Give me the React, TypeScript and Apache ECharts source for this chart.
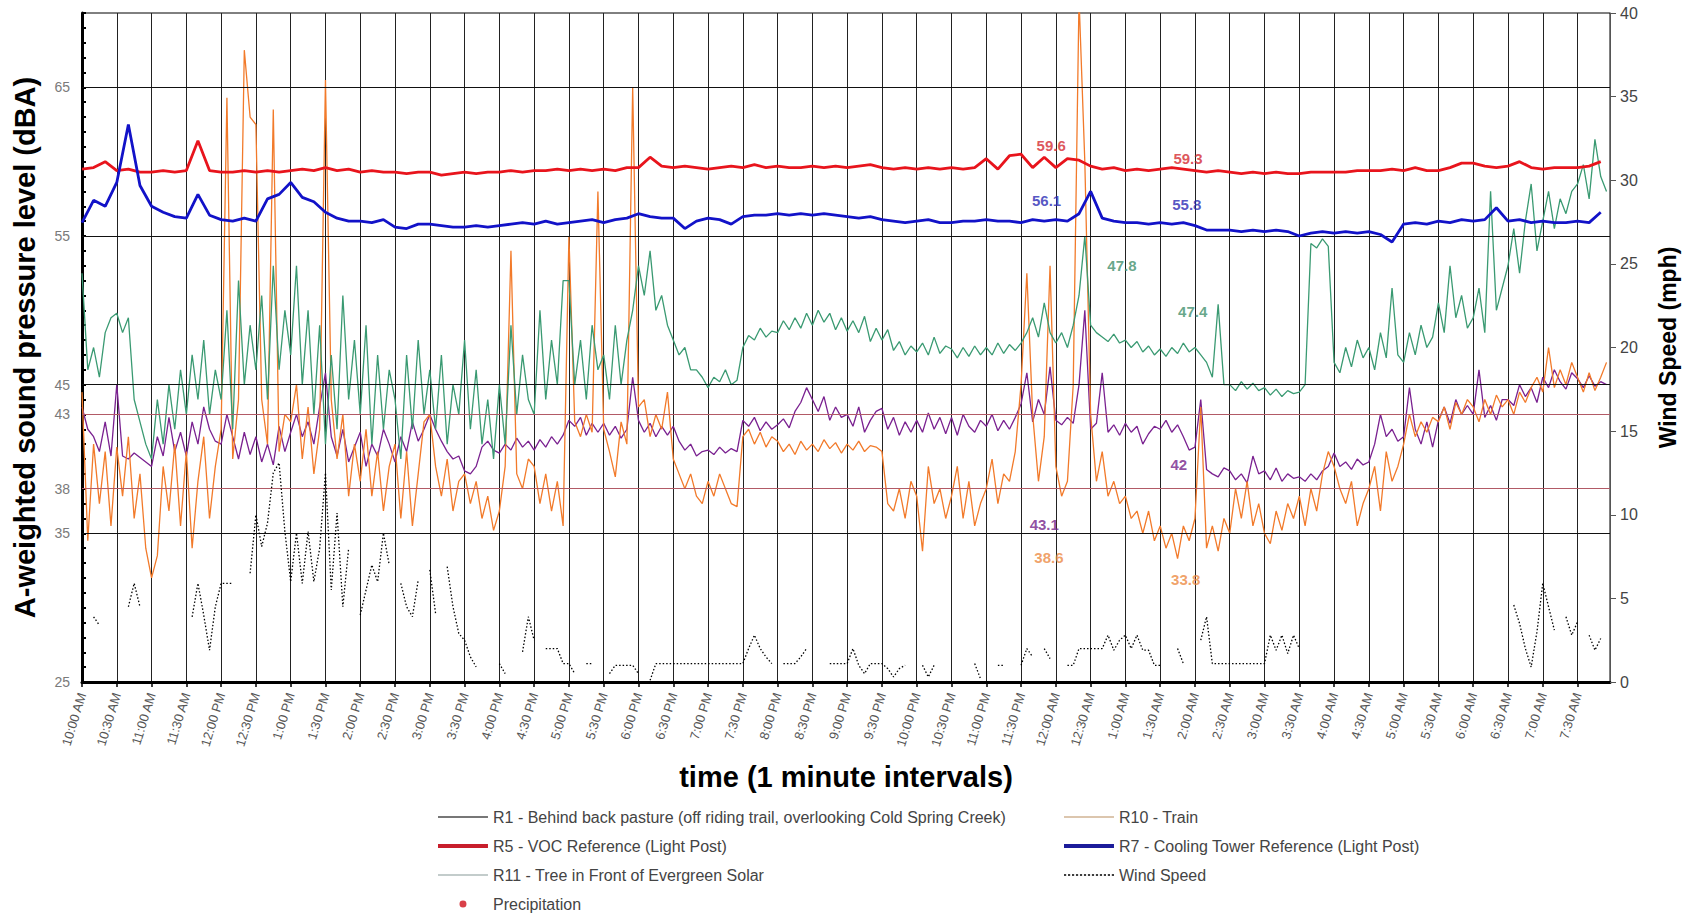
import React, { useEffect, useRef } from "react";
import * as echarts from "echarts";

// time axis: minutes after 10:00 AM
const START_MINUTES = 600;
const X_MAX = 1318;
const STEP_COARSE = 10; // R5, R7 sampled every 10 minutes
const STEP_FINE = 5; // R1, R10, R11, wind sampled every 5 minutes

const NAME_R1 = "R1 - Behind back pasture (off riding trail, overlooking Cold Spring Creek)";
const NAME_R10 = "R10 - Train";
const NAME_R5 = "R5 - VOC Reference (Light Post)";
const NAME_R7 = "R7 - Cooling Tower Reference (Light Post)";
const NAME_R11 = "R11 - Tree in Front of Evergreen Solar";
const NAME_WIND = "Wind Speed";
const NAME_PRECIP = "Precipitation";

// R5 (10-min)
const R5_VOC = [
  59.5, 59.6, 60.0, 59.4, 59.5, 59.3, 59.3, 59.4, 59.3, 59.4, 61.4, 59.4,
  59.3, 59.3, 59.4, 59.3, 59.4, 59.3, 59.4, 59.5, 59.4, 59.6, 59.4, 59.5,
  59.3, 59.4, 59.3, 59.3, 59.2, 59.3, 59.3, 59.1, 59.2, 59.3, 59.2, 59.3,
  59.3, 59.4, 59.3, 59.4, 59.4, 59.5, 59.4, 59.5, 59.4, 59.5, 59.4, 59.6,
  59.6, 60.3, 59.7, 59.6, 59.7, 59.6, 59.5, 59.6, 59.7, 59.6, 59.8, 59.6,
  59.7, 59.6, 59.6, 59.7, 59.6, 59.7, 59.6, 59.7, 59.8, 59.6, 59.5, 59.6,
  59.5, 59.6, 59.5, 59.6, 59.5, 59.6, 60.2, 59.5, 60.4, 60.5, 59.6, 60.3,
  59.6, 60.2, 60.1, 59.7, 59.5, 59.6, 59.4, 59.5, 59.4, 59.5, 59.6, 59.5,
  59.4, 59.3, 59.4, 59.3, 59.2, 59.3, 59.2, 59.3, 59.2, 59.2, 59.3, 59.3,
  59.3, 59.3, 59.4, 59.4, 59.4, 59.5, 59.4, 59.6, 59.4, 59.4, 59.6, 59.9,
  59.9, 59.7, 59.6, 59.7, 60.0, 59.6, 59.5, 59.6, 59.6, 59.6, 59.7, 60.0,
];

// R7 (10-min)
const R7_COOLING = [
  55.9, 57.4, 57.0, 58.6, 62.5, 58.4, 57.0, 56.6, 56.3, 56.2, 57.8, 56.4,
  56.1, 56.0, 56.2, 56.0, 57.5, 57.8, 58.6, 57.6, 57.3, 56.6, 56.2, 56.0,
  56.0, 55.9, 56.1, 55.6, 55.5, 55.8, 55.8, 55.7, 55.6, 55.6, 55.7, 55.6,
  55.7, 55.8, 55.9, 55.8, 56.0, 55.8, 55.9, 56.0, 56.1, 55.9, 56.1, 56.2,
  56.5, 56.3, 56.2, 56.2, 55.5, 56.0, 56.2, 56.1, 55.8, 56.3, 56.4, 56.4,
  56.5, 56.4, 56.5, 56.4, 56.5, 56.4, 56.3, 56.2, 56.3, 56.1, 56.0, 55.9,
  56.0, 56.1, 55.9, 55.9, 56.0, 56.0, 56.1, 56.0, 56.0, 55.9, 56.1, 56.0,
  56.1, 56.0, 56.5, 58.0, 56.2, 56.0, 55.9, 55.9, 55.8, 55.9, 55.8, 55.9,
  55.7, 55.4, 55.4, 55.4, 55.3, 55.4, 55.3, 55.4, 55.3, 55.0, 55.2, 55.3,
  55.2, 55.3, 55.2, 55.3, 55.1, 54.6, 55.8, 55.9, 55.8, 56.0, 55.9, 56.1,
  56.0, 56.1, 56.9, 56.0, 56.1, 55.9, 56.0, 55.9, 55.9, 56.0, 55.9, 56.6,
];

// R1 (5-min)
const R1_PASTURE = [
  43.5, 42.0, 41.5, 40.5, 42.5, 40.2, 45.0, 40.2, 40.0, 40.4, 40.1, 39.8,
  39.5, 41.5, 40.2, 42.8, 40.5, 41.8, 40.2, 42.5, 41.0, 43.5, 42.0, 41.2,
  41.0, 43.0, 41.5, 40.0, 41.8, 40.3, 41.5, 39.8, 41.0, 39.6, 42.2, 40.5,
  41.8, 43.0, 41.5, 42.5, 41.0, 43.5, 45.8, 41.5, 40.2, 42.0, 39.8, 40.8,
  41.8, 39.5, 41.0, 40.2, 42.0, 41.0, 39.8, 41.5, 40.5, 42.5, 41.2, 42.0,
  43.0, 42.0, 41.2, 40.5, 40.0, 40.2, 39.2, 39.0, 39.5, 40.8, 41.2, 40.6,
  40.4, 41.0, 40.6, 41.4, 40.8, 41.2, 40.6, 41.3, 40.8, 41.5, 41.0, 41.6,
  42.6, 42.2, 42.8, 41.6, 42.4, 41.8, 42.4, 41.6, 42.2, 41.4, 42.0, 45.5,
  42.6, 41.8, 42.4, 41.5, 42.2, 41.6, 42.2, 41.2, 40.6, 41.0, 40.2, 40.5,
  40.6, 40.3, 40.8, 40.4, 40.7, 40.5, 42.6, 42.2, 42.8, 41.9, 42.5, 42.0,
  42.3, 42.7, 42.1, 43.2, 43.8, 44.8, 44.0, 43.2, 44.2, 42.6, 43.5, 42.8,
  43.0, 42.2, 43.5, 41.8, 42.6, 43.2, 43.4, 42.0, 42.8, 41.6, 42.5, 41.8,
  42.6, 41.8, 43.1, 42.0, 42.8, 41.7, 42.8, 41.6, 43.0, 42.2, 41.8, 42.6,
  42.2, 43.0, 41.9, 42.6, 42.0, 42.8, 43.7, 45.8, 42.5, 44.0, 43.0, 46.2,
  42.6, 42.3, 42.8, 42.4, 45.0, 50.0, 42.0, 42.4, 45.8, 41.8, 42.3, 41.6,
  42.4, 41.8, 42.2, 41.0, 41.7, 42.2, 42.0, 42.6, 41.8, 42.3, 41.5, 40.6,
  40.8, 44.0, 39.3, 39.0, 38.8, 39.4, 39.2, 38.6, 39.0, 38.4, 40.2, 39.0,
  39.2, 38.6, 39.4, 38.5, 39.0, 38.7, 38.8, 38.5, 39.0, 38.6, 39.2, 39.5,
  40.4, 39.5, 39.8, 39.3, 40.0, 39.6, 39.8, 41.0, 43.0, 41.5, 42.0, 41.2,
  41.5, 44.8, 42.0, 41.0, 42.5, 40.8, 42.6, 43.5, 42.4, 44.0, 43.0, 43.6,
  43.0, 46.0, 42.8, 43.6, 42.6, 44.0, 44.0, 43.6, 45.0, 44.2, 44.8, 43.8,
  45.5, 44.8, 46.0, 45.2, 44.7, 45.8, 45.4, 44.8, 45.6, 44.9, 45.2, 45.0,
];

// R10 (5-min)
const R10_TRAIN = [
  44.5, 34.5, 41.0, 37.0, 40.5, 35.5, 40.8, 37.5, 41.5, 36.0, 39.0, 34.0,
  32.0, 33.5, 39.5, 36.5, 41.0, 35.5, 40.5, 34.0, 38.5, 41.5, 36.0, 39.5,
  42.0, 64.3, 40.0, 44.0, 67.5, 63.0, 62.5, 44.0, 41.0, 63.5, 40.5, 43.0,
  42.5, 45.0, 40.0, 43.5, 39.0, 42.0, 65.5, 44.0, 40.0, 43.0, 37.5, 41.0,
  38.5, 42.0, 37.5, 40.5, 36.5, 39.5, 41.0, 36.0, 40.5, 35.5, 39.0, 42.5,
  43.0, 39.5, 37.5, 40.0, 36.5, 38.5, 39.0, 37.0, 38.5, 36.0, 37.5, 35.2,
  36.5, 39.5, 54.0, 39.0, 38.0, 40.0, 39.5, 37.0, 39.0, 36.5, 38.5, 35.5,
  55.0, 42.5, 41.5, 43.0, 41.8, 58.0, 42.0, 40.5, 38.8, 42.5, 41.0, 65.0,
  43.5, 44.0, 41.5, 43.0, 42.0, 44.5, 40.0, 39.0, 38.0, 39.0, 37.5, 37.0,
  38.5, 37.5, 39.0, 38.0, 37.0, 36.8, 41.5, 42.0, 41.0, 41.8, 40.8, 41.5,
  41.2, 40.5, 41.0, 40.3, 41.2, 40.6, 41.0, 40.5, 41.3, 40.7, 41.1, 40.4,
  41.0, 40.6, 41.2, 40.5, 40.9, 40.8, 40.5, 37.0, 36.5, 38.0, 36.0, 38.5,
  37.5, 33.8, 39.5, 37.0, 38.0, 36.0, 37.5, 39.5, 36.0, 38.5, 35.5, 37.0,
  38.0, 40.0, 37.0, 39.0, 38.5, 40.5, 45.0, 52.5, 43.0, 38.5, 41.5, 53.0,
  39.5, 37.5, 38.5, 45.0, 71.0, 60.0, 43.0, 38.5, 40.5, 37.5, 38.5, 37.0,
  37.5, 36.0, 36.5, 35.0, 36.5, 34.5, 35.5, 34.0, 35.0, 33.3, 35.5, 34.5,
  36.0, 43.5, 34.0, 35.5, 33.8, 36.0, 35.0, 38.0, 36.0, 38.5, 35.5, 37.0,
  35.0, 34.3, 36.5, 35.2, 37.0, 36.0, 37.5, 35.5, 38.0, 36.5, 39.0, 40.5,
  39.5, 38.0, 37.0, 38.5, 35.5, 37.0, 38.0, 39.5, 36.5, 40.5, 38.5, 39.5,
  41.0, 43.0, 41.5, 42.5, 41.8, 42.8, 42.5, 43.5, 42.0, 43.8, 43.0, 44.0,
  43.5, 42.5, 44.0, 43.0, 44.3, 43.5, 44.0, 43.0, 44.5, 43.8, 44.8, 45.5,
  44.5, 47.5, 44.8, 46.0, 45.0, 46.5, 45.5, 44.5, 45.8, 44.6, 45.5, 46.5,
];

// R11 (5-min)
const R11_TREE = [
  52.5, 46.0, 47.5, 45.5, 48.5, 49.5, 49.8, 48.5, 49.5, 44.0, 42.5, 41.0,
  40.0, 44.0, 41.0, 45.0, 42.0, 46.0, 43.0, 47.0, 44.0, 48.0, 43.0, 46.0,
  44.0, 50.0, 42.0, 52.0, 45.0, 49.0, 46.0, 51.0, 44.0, 53.0, 46.0, 50.0,
  47.0, 53.0, 45.0, 50.0, 43.0, 49.0, 41.0, 47.0, 42.0, 51.0, 44.0, 48.0,
  43.0, 49.0, 41.0, 47.0, 42.0, 46.0, 44.0, 40.0, 47.0, 42.0, 48.0, 43.0,
  46.0, 42.0, 47.0, 41.0, 45.0, 43.0, 48.0, 42.0, 46.0, 41.0, 44.0, 40.0,
  45.0, 41.0, 49.0, 43.0, 47.0, 44.0, 43.0, 50.0, 44.0, 48.0, 45.0, 52.0,
  52.0, 45.0, 48.0, 44.0, 49.0, 46.0, 47.0, 44.0, 49.0, 45.0, 48.0, 50.0,
  53.0, 51.0, 54.0, 50.0, 51.0, 49.0, 48.0, 47.0, 47.5, 46.0, 46.0, 45.5,
  44.8, 45.5, 45.2, 46.0, 45.0, 45.3, 47.5, 48.3, 48.0, 48.8, 48.2, 48.6,
  48.5, 49.3, 48.7, 49.5, 48.8, 49.8, 49.0, 50.0, 49.2, 49.8, 48.7, 49.5,
  48.6, 49.3, 48.5, 49.6, 47.9, 48.8, 48.0, 48.7, 47.3, 47.9, 47.0, 47.6,
  47.2, 47.8, 47.0, 48.2, 47.1, 47.6, 47.4, 46.8, 47.5, 46.9, 47.6, 47.0,
  47.5, 47.0, 47.8, 47.1, 47.7, 47.3, 47.8, 48.5, 49.5, 48.2, 50.5, 48.5,
  47.8, 48.5, 47.5, 49.0, 51.0, 55.0, 49.0, 48.5, 48.2, 47.9, 48.4, 47.8,
  48.0, 47.5, 47.9, 47.2, 47.6, 47.0, 47.4, 46.9, 47.5, 47.1, 47.8, 47.2,
  47.5, 47.0, 46.5, 45.5, 50.4, 45.0, 45.0, 44.6, 45.2, 44.7, 45.1, 44.6,
  44.8, 44.3, 44.7, 44.2, 44.6, 44.4, 44.5, 45.0, 54.5, 54.2, 54.8, 54.3,
  46.5, 45.8, 47.5, 46.2, 48.0, 46.8, 47.5, 46.0, 48.5, 46.8, 51.5, 47.0,
  46.5, 48.5, 47.0, 49.0, 47.5, 48.2, 50.5, 48.5, 53.0, 49.5, 51.0, 48.8,
  49.5, 51.5, 48.5, 58.0, 50.0, 51.5, 53.0, 55.5, 52.5, 56.0, 58.5, 54.0,
  56.0, 58.0, 55.5, 57.5, 56.5, 58.0, 58.5, 59.8, 57.5, 61.5, 59.0, 58.0,
];

// Wind speed (mph, 5-min, null = no reading)
const WIND_MPH = [
  null, null, 3.9, 3.4, null, 3.9, null, null, 4.5, 5.9, 4.5, null,
  null, null, null, null, 3.9, null, null, 3.9, 5.9, 4.0, 1.9, 4.5,
  5.9, 5.9, 5.9, null, null, 6.5, 10.0, 8.1, 9.5, 12.5, 13.1, 9.0,
  6.0, 8.9, 5.9, 9.0, 6.0, 8.0, 12.5, 5.5, 10.1, 4.5, 8.0, null,
  4.0, 5.5, 7.0, 6.0, 8.9, 7.0, null, 5.9, 4.5, 3.9, 6.1, null,
  6.7, 4.1, null, 6.9, 4.5, 2.9, 2.5, 1.5, 0.9, null, null, null,
  1.1, 0.5, null, null, 1.8, 3.9, 2.5, null, 2.0, 2.0, 2.0, 1.1,
  1.1, 0.5, null, 1.1, 1.1, null, null, 0.5, 1.0, 1.0, 1.0, 1.0,
  0.5, null, 0.1, 1.1, 1.1, 1.1, 1.1, 1.1, 1.1, 1.1, 1.1, 1.1,
  1.1, 1.1, 1.1, 1.1, 1.1, 1.1, 1.1, 2.0, 2.8, 2.0, 1.5, 1.1,
  null, 1.1, 1.1, 1.1, 1.5, 2.0, null, null, null, 1.1, 1.1, 1.1,
  1.1, 2.0, 1.0, 0.5, 1.1, 1.1, 1.1, 0.8, 0.3, 0.8, 1.0, null,
  null, 1.0, 0.3, 1.0, null, null, null, null, null, null, 1.1, 0.2,
  null, null, 1.0, 1.0, null, null, 1.0, 2.0, 1.5, null, 2.0, 1.4,
  null, null, 1.0, 1.0, 2.0, 2.0, 2.0, 2.0, 2.0, 2.8, 1.9, 2.5,
  2.8, 2.0, 2.8, 1.9, 1.9, 1.0, 1.0, null, null, 2.0, 1.1, null,
  null, 2.5, 3.9, 1.1, 1.1, 1.1, 1.1, 1.1, 1.1, 1.1, 1.1, 1.1,
  1.1, 2.8, 1.9, 2.8, 1.7, 2.8, 2.0, null, null, null, null, null,
  null, null, null, null, null, null, null, null, null, null, null, null,
  null, null, null, null, null, null, null, null, null, null, null, null,
  null, null, null, null, 5.0, null, null, 4.6, 3.5, 2.0, 0.9, 3.0,
  5.9, 4.5, 3.1, null, 3.9, 2.8, 3.6, null, 2.8, 1.9, 2.6, null,
];

const LEFT_LABELS = [25, 35, 38, 43, 45, 55, 65];
const GRID_BLACK = [35, 45, 55, 65];
const GRID_RED = [38, 43];

// annotations: text, minute, dBA, colour
const NOTE_TEXT = ["59.6", "59.3", "56.1", "55.8", "47.8", "47.4", "42", "43.1", "38.6", "33.8"];
const NOTE_MIN = [836, 954, 832, 953, 897, 958, 946, 830, 834, 952];
const NOTE_DB = [61.1, 60.2, 57.4, 57.1, 53.0, 49.9, 39.6, 35.6, 33.4, 31.9];
const NOTE_COLOR = ["#d42a30", "#d42a30", "#2a2ab4", "#2a2ab4", "#3f8f6c", "#3f8f6c", "#74248a", "#74248a", "#ec8a42", "#ec8a42"];

const FONT = "'Liberation Sans', Arial, sans-serif";

function pairs(values: (number | null)[], step: number) {
  return values.map((v, i) => [i * step, v]);
}

function fmtTime(v: number) {
  const total = START_MINUTES + Math.round(v);
  const h = Math.floor(total / 60) % 24;
  const m = total % 60;
  const ap = h < 12 ? "AM" : "PM";
  let h12 = h % 12;
  if (h12 === 0) h12 = 12;
  return `${h12}:${String(m).padStart(2, "0")} ${ap}`;
}

// legend icons (box 50 x 16; tiny corner marks fix the bounding box)
const ICON_BOX = "M0 0h0.01v0.01h-0.01z M50 16h0.01v0.01h-0.01z ";
const ICON_THIN = "path://" + ICON_BOX + "M0 7h50v2h-50z";
const ICON_THICK = "path://" + ICON_BOX + "M0 6h50v4h-50z";
let dots = "";
for (let x = 0; x < 50; x += 4) dots += `M${x} 7.2h2.2v1.6h-2.2z `;
const ICON_DOTTED = "path://" + ICON_BOX + dots;
const ICON_DOT = "path://" + ICON_BOX + "M28.5 8a3.5 3.5 0 1 0 -7 0a3.5 3.5 0 1 0 7 0z";

function iconStyle(color: string) {
  return { color, borderColor: color, borderWidth: 0 };
}

export default function App() {
  const ref = useRef<HTMLDivElement>(null);
  useEffect(() => {
    if (!ref.current) return;
    const chart = echarts.init(ref.current, undefined, { renderer: "svg" });
    const markLineData = [
      ...GRID_BLACK.map((y) => ({ yAxis: y, lineStyle: { color: "#111", width: 1.2, type: "solid" } })),
      ...GRID_RED.map((y) => ({ yAxis: y, lineStyle: { color: "#b25a66", width: 1, type: "solid" } })),
    ];
    const legendText = { fontSize: 16, color: "#444", fontFamily: FONT };
    const legendBase = {
      orient: "vertical",
      top: 809,
      padding: 0,
      itemWidth: 50,
      itemHeight: 16,
      itemGap: 13,
      textStyle: legendText,
      selectedMode: false,
    };
    chart.setOption({
      animation: false,
      backgroundColor: "#ffffff",
      textStyle: { fontFamily: FONT },
      grid: { left: 82, right: 84, top: 13, bottom: 235, show: true, borderColor: "#000", borderWidth: 1 },
      xAxis: {
        type: "value",
        min: 0,
        max: X_MAX,
        interval: 30,
        axisLine: { lineStyle: { color: "#000", width: 3 } },
        axisTick: { show: true, length: 5, lineStyle: { color: "#000", width: 1.5 } },
        axisLabel: {
          rotate: 73,
          formatter: fmtTime,
          fontSize: 13,
          color: "#555",
          showMaxLabel: false,
          margin: 11,
        },
        splitLine: { show: true, lineStyle: { color: "#222", width: 1 } },
        name: "time (1 minute intervals)",
        nameLocation: "middle",
        nameGap: 80,
        nameTextStyle: { fontSize: 29, fontWeight: "bold", color: "#000", fontFamily: FONT },
      },
      yAxis: [
        {
          type: "value",
          min: 25,
          max: 70,
          interval: 1,
          position: "left",
          axisLine: { show: true, lineStyle: { color: "#000", width: 3 } },
          axisTick: { show: true, inside: true, length: 4, lineStyle: { color: "#000", width: 2 } },
          axisLabel: {
            formatter: (v: number) => (LEFT_LABELS.includes(v) ? String(v) : ""),
            fontSize: 14,
            color: "#7a7a7a",
            margin: 12,
          },
          splitLine: { show: false },
          name: "A-weighted sound pressure level (dBA)",
          nameLocation: "middle",
          nameGap: 43,
          nameRotate: 90,
          nameTextStyle: { fontSize: 29, fontWeight: "bold", color: "#000", fontFamily: FONT },
        },
        {
          type: "value",
          min: 0,
          max: 40,
          interval: 5,
          position: "right",
          axisLine: { show: true, lineStyle: { color: "#555", width: 1 } },
          axisTick: { show: true, length: 6, lineStyle: { color: "#555" } },
          axisLabel: { fontSize: 16, color: "#444", margin: 10 },
          splitLine: { show: false },
          name: "Wind Speed (mph)",
          nameLocation: "middle",
          nameGap: 46,
          nameRotate: 90,
          nameTextStyle: { fontSize: 23, fontWeight: "bold", color: "#000", fontFamily: FONT },
        },
      ],
      legend: [
        {
          ...legendBase,
          left: 438,
          data: [
            { name: NAME_R1, icon: ICON_THIN, itemStyle: iconStyle("#777777") },
            { name: NAME_R5, icon: ICON_THICK, itemStyle: iconStyle("#c81e2c") },
            { name: NAME_R11, icon: ICON_THIN, itemStyle: iconStyle("#c3cccb") },
            { name: NAME_PRECIP, icon: ICON_DOT, itemStyle: iconStyle("#d0101a") },
          ],
        },
        {
          ...legendBase,
          left: 1064,
          data: [
            { name: NAME_R10, icon: ICON_THIN, itemStyle: iconStyle("#dcc6ae") },
            { name: NAME_R7, icon: ICON_THICK, itemStyle: iconStyle("#1c1c9a") },
            { name: NAME_WIND, icon: ICON_DOTTED, itemStyle: iconStyle("#000000") },
          ],
        },
      ],
      series: [
        {
          name: "gridlines",
          type: "line",
          data: [],
          z: 1,
          silent: true,
          markLine: { silent: true, symbol: "none", label: { show: false }, data: markLineData },
        },
        {
          name: NAME_R1,
          type: "line",
          data: pairs(R1_PASTURE, STEP_FINE),
          showSymbol: false,
          symbol: "none",
          z: 2,
          lineStyle: { color: "#7a2190", width: 1.3 },
          itemStyle: { color: "#7a2190" },
        },
        {
          name: NAME_R10,
          type: "line",
          data: pairs(R10_TRAIN, STEP_FINE),
          showSymbol: false,
          symbol: "none",
          z: 3,
          lineStyle: { color: "#f27a2a", width: 1.3 },
          itemStyle: { color: "#f27a2a" },
        },
        {
          name: NAME_R11,
          type: "line",
          data: pairs(R11_TREE, STEP_FINE),
          showSymbol: false,
          symbol: "none",
          z: 4,
          lineStyle: { color: "#3a9a72", width: 1.3 },
          itemStyle: { color: "#3a9a72" },
        },
        {
          name: NAME_R5,
          type: "line",
          data: pairs(R5_VOC, STEP_COARSE),
          showSymbol: false,
          symbol: "none",
          z: 5,
          lineStyle: { color: "#e8141c", width: 2.8 },
          itemStyle: { color: "#e8141c" },
        },
        {
          name: NAME_R7,
          type: "line",
          data: pairs(R7_COOLING, STEP_COARSE),
          showSymbol: false,
          symbol: "none",
          z: 6,
          lineStyle: { color: "#1212c8", width: 2.8 },
          itemStyle: { color: "#1212c8" },
        },
        {
          name: NAME_WIND,
          type: "line",
          yAxisIndex: 1,
          data: pairs(WIND_MPH, STEP_FINE),
          showSymbol: false,
          symbol: "none",
          connectNulls: false,
          z: 7,
          lineStyle: { color: "#000", width: 1.3, type: [1.5, 2] },
          itemStyle: { color: "#000" },
        },
        {
          name: NAME_PRECIP,
          type: "scatter",
          yAxisIndex: 1,
          data: [],
          itemStyle: { color: "#d0101a" },
        },
        {
          name: "notes",
          type: "scatter",
          z: 9,
          symbolSize: 1,
          silent: true,
          itemStyle: { color: "rgba(0,0,0,0)" },
          data: NOTE_TEXT.map((t, i) => ({
            value: [NOTE_MIN[i], NOTE_DB[i]],
            label: {
              show: true,
              position: "inside",
              formatter: t,
              color: NOTE_COLOR[i],
              fontSize: 15,
              fontWeight: "bold",
              fontFamily: FONT,
            },
          })),
        },
      ],
    });
    return () => chart.dispose();
  }, []);
  return (
    <div
      ref={ref}
      style={{ position: "absolute", left: 0, top: 0, width: 1694, height: 917, background: "#fff" }}
    />
  );
}
